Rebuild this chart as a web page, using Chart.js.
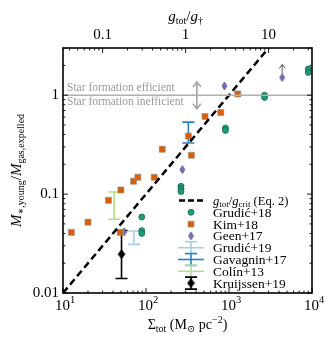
<!DOCTYPE html>
<html>
<head>
<meta charset="utf-8">
<script src="https://cdn.jsdelivr.net/npm/chart.js@4.4.1/dist/chart.umd.min.js"></script>
<style>
  body { margin: 0; background: #fff; }
  canvas { display: block; }
</style>
</head>
<body>
<canvas id="chart" width="333" height="345"></canvas>
<script>
// Kim+18 (orange squares)
const kimSigma = [12.6, 20.0, 35.3, 48.8, 49.8, 70.8, 79.8, 125.6, 157, 324, 352, 514, 796, 1276];
const kimRatio = [0.041, 0.052, 0.0865, 0.041, 0.110, 0.135, 0.148, 0.148, 0.284, 0.386, 0.247, 0.609, 0.668, 1.03];

// Grudić+18 (green circles)
const grudic18Sigma = [89, 89, 89, 264, 264, 264, 906, 906, 2680, 2680, 9020, 9020];
const grudic18Ratio = [0.0587, 0.0427, 0.040, 0.120, 0.113, 0.106, 0.465, 0.44, 1.0, 0.95, 1.84, 1.70];

// Geen+17 (purple diamonds), last one is a lower limit
const geenSigma = [54.6, 274, 880, 4370];
const geenRatio = [0.0415, 0.177, 1.24, 1.51];
const geenLowerLimit = [false, false, false, true];

// error bar studies
const errNames = ["Grudić+19", "Gavagnin+17", "Colín+13", "Kruijssen+19"];
const errSigma = [71.5, 324, 41.3, 50.7];
const errLow = [0.031, 0.328, 0.0556, 0.0140];
const errHigh = [0.0424, 0.534, 0.105, 0.0428];
const kruijssenRatio = [0.0247];

// g_tot / g_crit model line (Eq. 2)
const critSigma = [10, 3000];
const critRatio = [0.01, 3];

// ticks
const xTicks = [10, 100, 1000, 10000];
const xExp = ["1", "2", "3", "4"];
const yTicks = [0.01, 0.1, 1];
const yTickLabels = ["0.01", "0.1", "1"];
const gTicks = [0.1, 1, 10];
const gTickLabels = ["0.1", "1", "10"];
const sigmaPerG = 300; // Sigma_tot where g_tot = g_dagger

const errColors = ["#a6cee3", "#2b7fbf", "#b2df8a", "#000000"];
const FONT = '"Liberation Serif", "DejaVu Serif", serif';

function thinDiamond(w, h, fill, stroke) {
  const c = document.createElement("canvas");
  c.width = w + 2; c.height = h + 2;
  const g = c.getContext("2d");
  g.beginPath();
  g.moveTo(c.width / 2, 1);
  g.lineTo(c.width - 1, c.height / 2);
  g.lineTo(c.width / 2, c.height - 1);
  g.lineTo(1, c.height / 2);
  g.closePath();
  g.fillStyle = fill; g.fill();
  g.lineWidth = 0.7; g.strokeStyle = stroke; g.stroke();
  return c;
}
const geenMarker = thinDiamond(5, 8, "#7570b3", "#4a4680");
const kruMarker = thinDiamond(7, 9, "#000", "#000");

function pts(xs, ys) { return xs.map((x, i) => ({ x: x, y: ys[i] })); }

function fontOf(r) { return (r.it ? "italic " : "") + r.s + "px " + FONT; }
function richWidth(ctx, runs) {
  let w = 0;
  runs.forEach(r => { ctx.font = fontOf(r); w += ctx.measureText(r.t).width; });
  return w;
}
function drawRich(ctx, runs, x, y, align) {
  const w = richWidth(ctx, runs);
  let cx = align === "center" ? x - w / 2 : (align === "right" ? x - w : x);
  ctx.textAlign = "left";
  ctx.textBaseline = "alphabetic";
  runs.forEach(r => {
    ctx.font = fontOf(r);
    ctx.fillText(r.t, cx, y + (r.dy || 0));
    cx += ctx.measureText(r.t).width;
  });
}

function minorTicks(min, max) {
  const out = [];
  for (let d = Math.floor(Math.log10(min)); d <= Math.ceil(Math.log10(max)); d++) {
    for (let m = 1; m < 10; m++) {
      const v = m * Math.pow(10, d);
      if (v >= min * 0.999 && v <= max * 1.001) out.push({ v: v, major: m === 1 });
    }
  }
  return out;
}

function drawErrorBar(ctx, x, y1, y2, cap, color, lw) {
  ctx.strokeStyle = color; ctx.lineWidth = lw;
  ctx.beginPath();
  ctx.moveTo(x, y1); ctx.lineTo(x, y2);
  ctx.moveTo(x - cap, y1); ctx.lineTo(x + cap, y1);
  ctx.moveTo(x - cap, y2); ctx.lineTo(x + cap, y2);
  ctx.stroke();
}

const extras = {
  id: "extras",
  beforeDatasetsDraw(chart) {
    const ctx = chart.ctx, xs = chart.scales.x, ys = chart.scales.y, a = chart.chartArea;
    ctx.save();
    // annotations
    ctx.fillStyle = "#9a9a9a";
    ctx.font = "11.5px " + FONT;
    ctx.textAlign = "left"; ctx.textBaseline = "middle";
    ctx.fillText("Star formation efficient", a.left + 4, ys.getPixelForValue(1) - 7);
    ctx.fillText("Star formation inefficient", a.left + 4, ys.getPixelForValue(1) + 7);
    const ax = xs.getPixelForValue(410), ay1 = ys.getPixelForValue(1.36), ay2 = ys.getPixelForValue(0.73);
    ctx.strokeStyle = "#ababab"; ctx.lineWidth = 1.8;
    ctx.beginPath();
    ctx.moveTo(ax, ay1); ctx.lineTo(ax, ay2);
    ctx.moveTo(ax - 4, ay1 + 5); ctx.lineTo(ax, ay1); ctx.lineTo(ax + 4, ay1 + 5);
    ctx.moveTo(ax - 4, ay2 - 5); ctx.lineTo(ax, ay2); ctx.lineTo(ax + 4, ay2 - 5);
    ctx.stroke();
    // error bars
    errSigma.forEach((s, i) => {
      drawErrorBar(ctx, xs.getPixelForValue(s), ys.getPixelForValue(errHigh[i]),
        ys.getPixelForValue(errLow[i]), 6, errColors[i], 1.6);
    });
    // lower limit arrow for Geen+17
    geenSigma.forEach((s, i) => {
      if (!geenLowerLimit[i]) return;
      const px = xs.getPixelForValue(s), py = ys.getPixelForValue(geenRatio[i]);
      ctx.strokeStyle = "#444"; ctx.lineWidth = 0.9;
      ctx.beginPath();
      ctx.moveTo(px, py - 4); ctx.lineTo(px, py - 13);
      ctx.moveTo(px - 3, py - 9); ctx.lineTo(px, py - 13); ctx.lineTo(px + 3, py - 9);
      ctx.stroke();
    });
    ctx.restore();
  },
  afterDraw(chart) {
    const ctx = chart.ctx, xs = chart.scales.x, x2 = chart.scales.x2, ys = chart.scales.y, a = chart.chartArea;
    ctx.save();
    ctx.strokeStyle = "#000";
    // ticks, inward
    ctx.lineWidth = 0.9;
    ctx.beginPath();
    minorTicks(10, 10000).forEach(t => {
      const p = xs.getPixelForValue(t.v), L = t.major ? 5 : 2.5;
      ctx.moveTo(p, a.bottom); ctx.lineTo(p, a.bottom - L);
    });
    minorTicks(10 / sigmaPerG, 10000 / sigmaPerG).forEach(t => {
      const p = x2.getPixelForValue(t.v), L = t.major ? 5 : 2.5;
      ctx.moveTo(p, a.top); ctx.lineTo(p, a.top + L);
    });
    minorTicks(0.01, 3).forEach(t => {
      const p = ys.getPixelForValue(t.v), L = t.major ? 5 : 2.5;
      ctx.moveTo(a.left, p); ctx.lineTo(a.left + L, p);
      ctx.moveTo(a.right, p); ctx.lineTo(a.right - L, p);
    });
    ctx.stroke();
    // frame
    ctx.lineWidth = 1.6;
    ctx.strokeRect(a.left, a.top, a.right - a.left, a.bottom - a.top);

    // tick labels
    ctx.fillStyle = "#000";
    ctx.font = "15px " + FONT;
    ctx.textAlign = "right"; ctx.textBaseline = "middle";
    yTicks.forEach((v, i) => ctx.fillText(yTickLabels[i], a.left - 4, ys.getPixelForValue(v)));
    ctx.textAlign = "center"; ctx.textBaseline = "alphabetic";
    gTicks.forEach((v, i) => ctx.fillText(gTickLabels[i], x2.getPixelForValue(v), a.top - 9));
    xTicks.forEach((v, i) => {
      drawRich(ctx, [{ t: "10", s: 15 }, { t: xExp[i], s: 10.5, dy: -7 }], xs.getPixelForValue(v) + 2, a.bottom + 17, "center");
    });

    // axis titles
    drawRich(ctx, [{ t: "Σ", s: 14 }, { t: "tot", s: 10, dy: 3 }, { t: " (M", s: 14 }, { t: "⊙", s: 10, dy: 3 },
      { t: " pc", s: 14 }, { t: "−2", s: 10, dy: -6 }, { t: ")", s: 14 }], (a.left + a.right) / 2, a.bottom + 36, "center");
    drawRich(ctx, [{ t: "g", s: 15, it: true }, { t: "tot", s: 10, dy: 3 }, { t: "/", s: 15 },
      { t: "g", s: 15, it: true }, { t: "†", s: 10, dy: 3 }], x2.getPixelForValue(1), 21, "center");
    ctx.save();
    ctx.translate(21, (a.top + a.bottom) / 2);
    ctx.rotate(-Math.PI / 2);
    drawRich(ctx, [{ t: "M", s: 15, it: true }, { t: "∗,young", s: 10, dy: 3 }, { t: "/", s: 15 },
      { t: "M", s: 15, it: true }, { t: "gas,expelled", s: 10, dy: 3 }], 0, 0, "center");
    ctx.restore();

    // legend
    const lx = 191, tx = 213, y0 = 200.5, dy = 11.8;
    const row = k => y0 + k * dy;
    ctx.strokeStyle = "#000"; ctx.lineWidth = 2.4; ctx.setLineDash([6, 3]);
    ctx.beginPath(); ctx.moveTo(179, row(0)); ctx.lineTo(204, row(0)); ctx.stroke();
    ctx.setLineDash([]);
    ctx.fillStyle = "#1b9e77"; ctx.strokeStyle = "#0e5e46"; ctx.lineWidth = 0.7;
    ctx.beginPath(); ctx.arc(lx, row(1), 3, 0, Math.PI * 2); ctx.fill(); ctx.stroke();
    ctx.fillStyle = "#d95f02"; ctx.strokeStyle = "#a0a0a0";
    ctx.fillRect(lx - 3, row(2) - 3, 6, 6); ctx.strokeRect(lx - 3, row(2) - 3, 6, 6);
    ctx.drawImage(geenMarker, lx - geenMarker.width / 2, row(3) - geenMarker.height / 2);
    errNames.forEach((n, i) => {
      const yy = row(4 + i);
      drawErrorBar(ctx, lx, yy - 6, yy + 6, 6, errColors[i], 1.6);
      if (i < 3) {
        ctx.beginPath(); ctx.moveTo(178, yy); ctx.lineTo(204, yy); ctx.stroke();
      }
    });
    ctx.drawImage(kruMarker, lx - kruMarker.width / 2, row(7) - kruMarker.height / 2);
    ctx.fillStyle = "#000";
    const sub = 12.5, sb = 9;
    drawRich(ctx, [{ t: "g", s: sub, it: true }, { t: "tot", s: sb, dy: 2.5 }, { t: "/", s: sub },
      { t: "g", s: sub, it: true }, { t: "crit", s: sb, dy: 2.5 }, { t: " (Eq. 2)", s: sub }], tx, row(0) + 4, "left");
    const names = ["Grudić+18", "Kim+18", "Geen+17"].concat(errNames);
    names.forEach((n, i) => drawRich(ctx, [{ t: n, s: 13.5 }], tx, row(i + 1) + 4.5, "left"));
    ctx.restore();
  }
};

new Chart(document.getElementById("chart"), {
  type: "scatter",
  data: {
    datasets: [
      {
        type: "line", label: "threshold", data: pts([10, 10000], [1, 1]),
        borderColor: "#b0b0b0", borderWidth: 1.6, pointRadius: 0
      },
      {
        type: "line", label: "gcrit", data: pts(critSigma, critRatio),
        borderColor: "#000", borderWidth: 2.5, borderDash: [7, 4], pointRadius: 0
      },
      {
        label: "Grudić+18", data: pts(grudic18Sigma, grudic18Ratio),
        pointStyle: "circle", pointRadius: 3, backgroundColor: "#1b9e77",
        borderColor: "#0e5e46", borderWidth: 0.7
      },
      {
        label: "Kim+18", data: pts(kimSigma, kimRatio),
        pointStyle: "rect", pointRadius: 4.3, backgroundColor: "#d95f02",
        borderColor: "rgba(150,150,150,0.8)", borderWidth: 0.8
      },
      {
        label: "Geen+17", data: pts(geenSigma, geenRatio), pointStyle: geenMarker
      },
      {
        label: "Kruijssen+19", data: pts([errSigma[3]], kruijssenRatio), pointStyle: kruMarker
      }
    ]
  },
  options: {
    responsive: false,
    animation: false,
    layout: { padding: { left: 0, right: 21, top: 0, bottom: 0 } },
    plugins: { legend: { display: false }, tooltip: { enabled: false } },
    scales: {
      x: {
        type: "logarithmic", position: "bottom", min: 10, max: 10000,
        grid: { display: false }, border: { display: false }, ticks: { display: false },
        afterFit: s => { s.height = 52; }
      },
      x2: {
        type: "logarithmic", position: "top", min: 10 / sigmaPerG, max: 10000 / sigmaPerG,
        grid: { display: false }, border: { display: false }, ticks: { display: false },
        afterFit: s => { s.height = 48; }
      },
      y: {
        type: "logarithmic", min: 0.01, max: 3,
        grid: { display: false }, border: { display: false }, ticks: { display: false },
        afterFit: s => { s.width = 63; }
      }
    }
  },
  plugins: [extras]
});
</script>
</body>
</html>
